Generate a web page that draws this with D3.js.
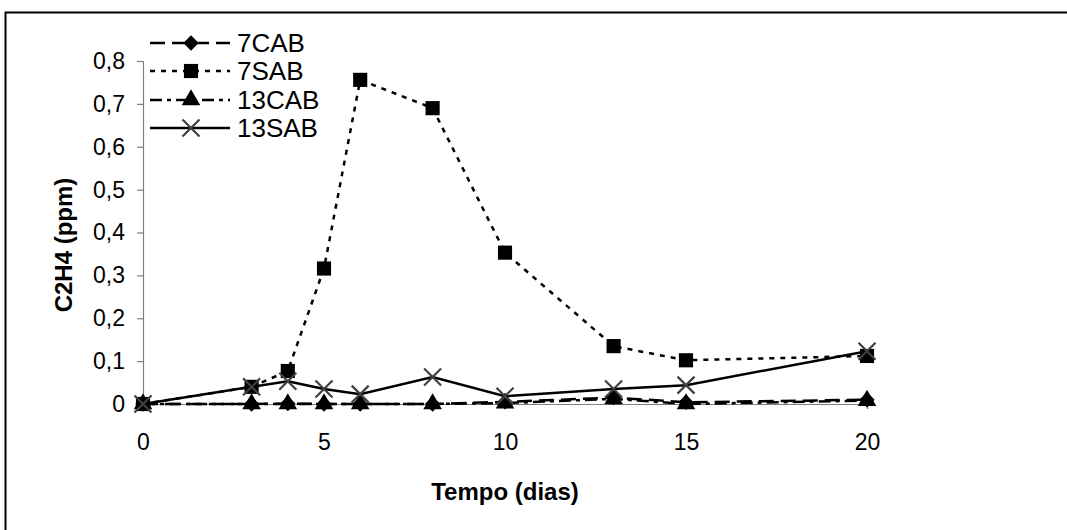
<!DOCTYPE html>
<html>
<meta charset="utf-8">
<style type="text/css">
  body { margin: 0; background: #fff; }
  text { font-family: "Liberation Sans", Arial, sans-serif; }
</style>
<body>
<svg width="1067" height="530"></svg>
<script src="https://d3js.org/d3.v7.min.js"></script>
<script>

// dias de armazenamento
const dias = [0, 3, 4, 5, 6, 8, 10, 13, 15, 20];

// C2H4 (ppm) de cada tratamento
const cab7  = [0, 0, 0.001, 0, 0, 0, 0.005, 0.015, 0.004, 0.01];
const sab7  = [0, 0.04, 0.077, 0.316, 0.756, 0.69, 0.353, 0.135, 0.102, 0.112];
const cab13 = [0, 0, 0, 0, 0, 0, 0.002, 0.012, 0, 0.008];
const sab13 = [0, 0.04, 0.053, 0.035, 0.023, 0.063, 0.018, 0.035, 0.044, 0.123];

const seriesNames = ["7CAB", "7SAB", "13CAB", "13SAB"];
const xTicks = [0, 5, 10, 15, 20];
const yTicks = [0, 0.1, 0.2, 0.3, 0.4, 0.5, 0.6, 0.7, 0.8];
const yTickLabels = ["0", "0,1", "0,2", "0,3", "0,4", "0,5", "0,6", "0,7", "0,8"];

const svg = d3.select("svg");

// moldura (aberta à direita e embaixo, cortada pela imagem)
svg.append("rect")
  .attr("x", 5.5).attr("y", 12.5)
  .attr("width", 1100).attr("height", 560)
  .attr("fill", "none").attr("stroke", "#000").attr("stroke-width", 2);

const x = d3.scaleLinear().domain([0, 20]).range([143, 867]);
const y = d3.scaleLinear().domain([0, 0.8]).range([404, 61]);

// eixo y
const yAxisG = svg.append("g")
  .attr("transform", `translate(${x(0)},0)`)
  .call(d3.axisLeft(y).tickValues(yTicks).tickSize(6).tickPadding(12)
    .tickFormat((d, i) => yTickLabels[i]));
yAxisG.select(".domain").attr("stroke", "#808080").attr("stroke-width", 1.2);
yAxisG.selectAll(".tick line").attr("stroke", "#808080").attr("stroke-width", 1.2);
yAxisG.selectAll("text").attr("font-size", 23).attr("fill", "#000")
  .style("font-family", "'Liberation Sans', Arial, sans-serif");

// eixo x
const xAxisG = svg.append("g")
  .attr("transform", `translate(0,${y(0)})`)
  .call(d3.axisBottom(x).tickValues(xTicks).tickSize(5).tickPadding(25));
xAxisG.select(".domain").attr("stroke", "#808080").attr("stroke-width", 1.2);
xAxisG.selectAll(".tick line").attr("stroke", "#808080").attr("stroke-width", 1.2);
xAxisG.selectAll("text").attr("font-size", 23).attr("fill", "#000")
  .style("font-family", "'Liberation Sans', Arial, sans-serif");

// títulos
svg.append("text")
  .attr("x", 505).attr("y", 500)
  .attr("text-anchor", "middle")
  .attr("font-size", 24).attr("font-weight", "bold")
  .text("Tempo (dias)");

svg.append("text")
  .attr("transform", "translate(72,245) rotate(-90)")
  .attr("text-anchor", "middle")
  .attr("font-size", 24).attr("font-weight", "bold")
  .text("C2H4 (ppm)");

// estilos das séries
const styles = [
  { values: cab7,  dash: "15,7",     symbol: d3.symbolDiamond2, size: 150, fill: "#000", stroke: "none", sw: 0 },
  { values: sab7,  dash: "5,6",      symbol: d3.symbolSquare,   size: 200, fill: "#000", stroke: "none", sw: 0 },
  { values: cab13, dash: "12,5,4,5", symbol: d3.symbolTriangle, size: 150, fill: "#000", stroke: "none", sw: 0 },
  { values: sab13, dash: null,       symbol: d3.symbolTimes,    size: 190, fill: "none", stroke: "#404040", sw: 2.2 }
];

const line = d3.line().x(d => x(d[0])).y(d => y(d[1]));

styles.forEach((s, k) => {
  const pts = dias.map((d, i) => [d, s.values[i]]);
  svg.append("path")
    .attr("d", line(pts))
    .attr("fill", "none")
    .attr("stroke", "#000")
    .attr("stroke-width", 2.5)
    .attr("stroke-dasharray", s.dash);

  svg.append("g").selectAll("path").data(pts).enter().append("path")
    .attr("transform", d => `translate(${x(d[0])},${y(d[1])})`)
    .attr("d", d3.symbol().type(s.symbol).size(s.size)())
    .attr("fill", s.fill)
    .attr("stroke", s.stroke)
    .attr("stroke-width", s.sw);
});

// legenda
const legendY = [43, 71, 100, 128];
const leg = svg.append("g");
styles.forEach((s, k) => {
  const g = leg.append("g").attr("transform", `translate(0,${legendY[k]})`);
  g.append("line")
    .attr("x1", 150).attr("x2", 230).attr("y1", 0).attr("y2", 0)
    .attr("stroke", "#000").attr("stroke-width", 2.5)
    .attr("stroke-dasharray", s.dash);
  g.append("path")
    .attr("transform", "translate(191,0)")
    .attr("d", d3.symbol().type(s.symbol).size(s.size)())
    .attr("fill", s.fill)
    .attr("stroke", s.stroke)
    .attr("stroke-width", s.sw);
  g.append("text")
    .attr("x", 237).attr("y", 0).attr("dy", "0.36em")
    .attr("font-size", 26)
    .text(seriesNames[k]);
});

</script>
</body>
</html>
